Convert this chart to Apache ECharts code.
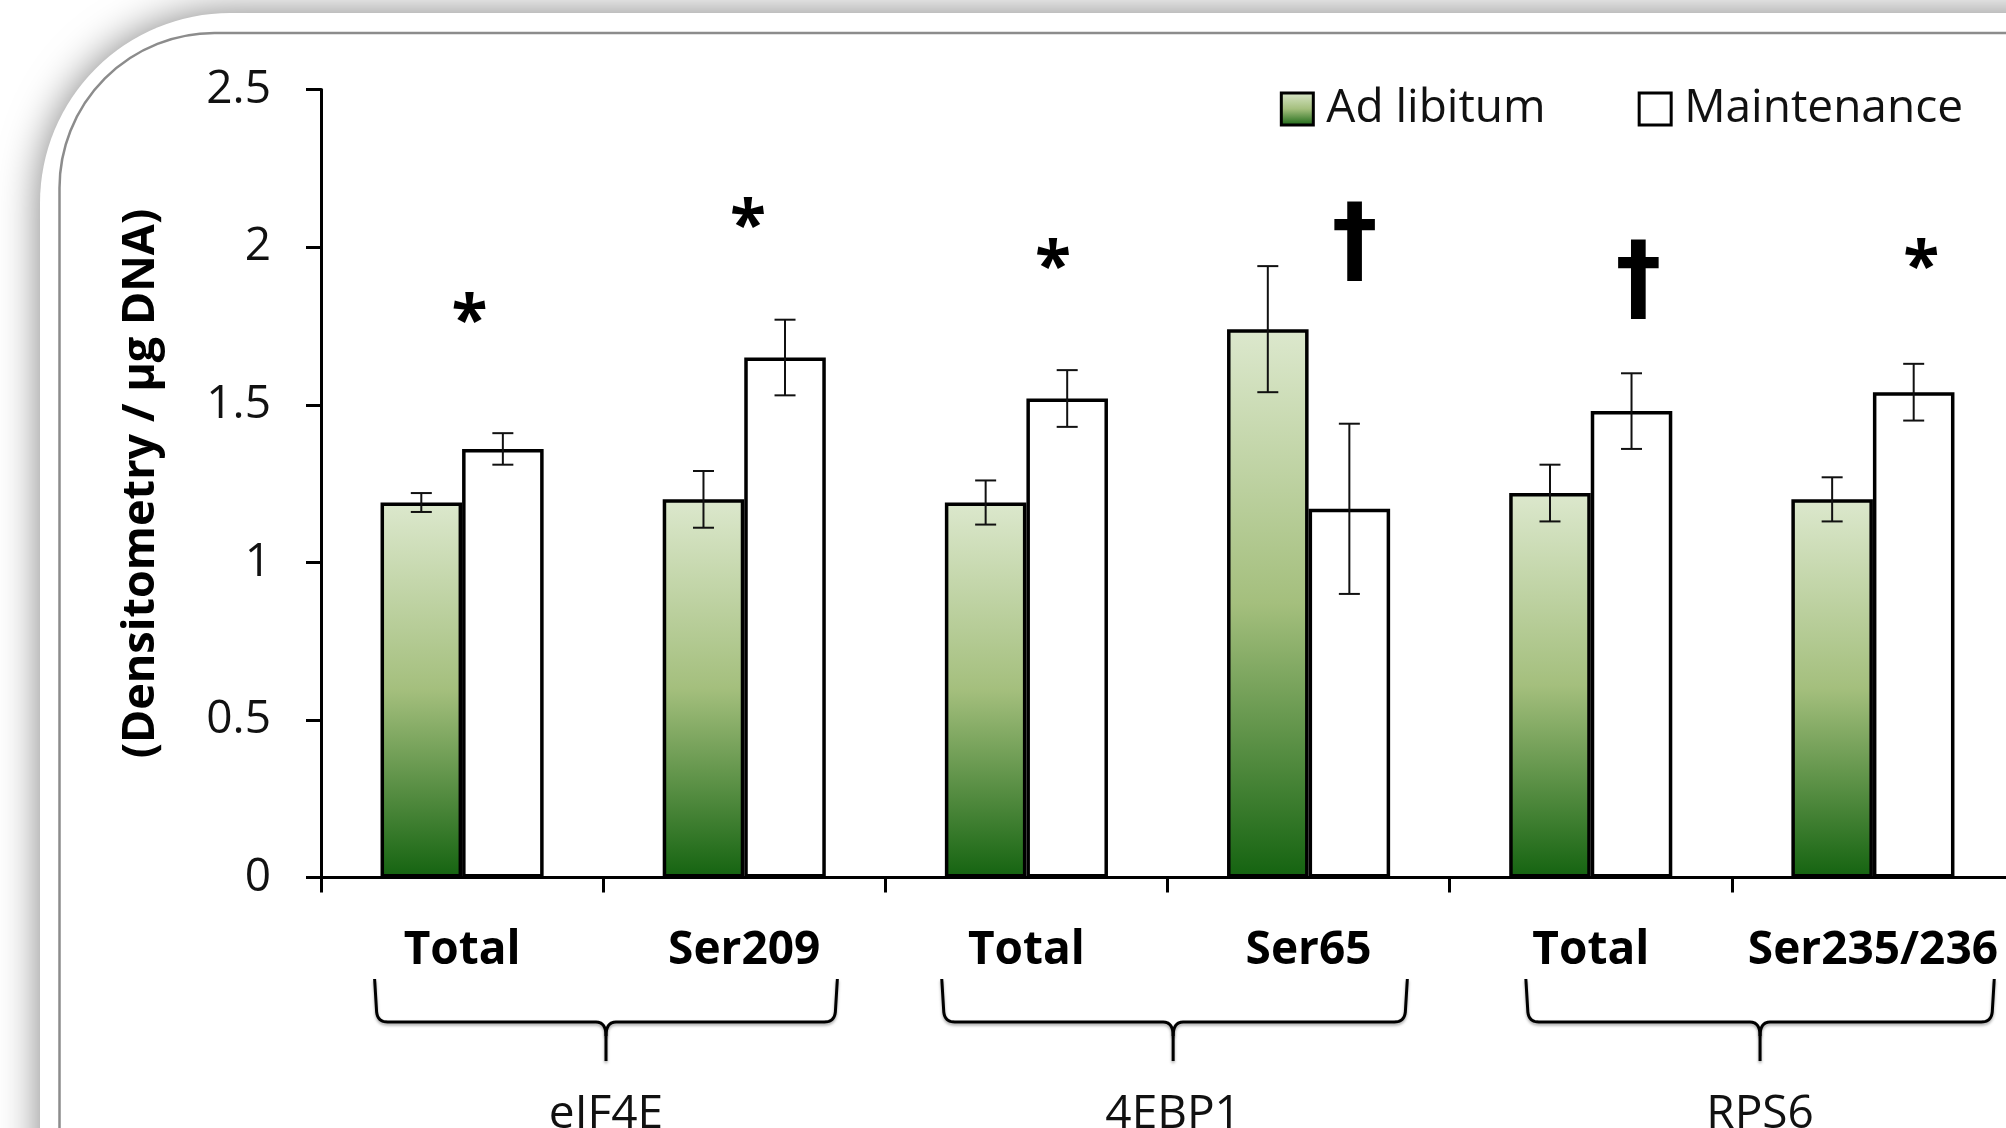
<!DOCTYPE html>
<html>
<head>
<meta charset="utf-8">
<script src="https://cdn.jsdelivr.net/npm/echarts@6/dist/echarts.min.js"></script>
<style>
html,body{margin:0;padding:0;background:#fff;}
#c{width:2006px;height:1128px;}
</style>
</head>
<body>
<div id="c"></div>
<script>
// ---- data ----
const categories = ['Total', 'Ser209', 'Total', 'Ser65', 'Total', 'Ser235/236'];
const seriesNames = ['Ad libitum', 'Maintenance'];
const adLibitum = [1.19, 1.20, 1.19, 1.74, 1.22, 1.20];
const adLibitumErr = [0.03, 0.09, 0.07, 0.20, 0.09, 0.07];
const maintenance = [1.36, 1.65, 1.52, 1.17, 1.48, 1.54];
const maintenanceErr = [0.05, 0.12, 0.09, 0.27, 0.12, 0.09];
const yMin = 0, yMax = 2.5, yInterval = 0.5;
const yTitle = '(Densitometry / µg DNA)';
const groupNames = ['eIF4E', '4EBP1', 'RPS6'];
// brace extents in category units: [left, tip, right]
const braceSpans = [[0.19, 1.01, 1.83], [2.20, 3.02, 3.85], [4.27, 5.10, 5.93]];
const marks = ['*', '*', '*', '\u2020', '\u2020', '*'];
const markValues = [1.80, 2.10, 1.97, 2.02, 1.90, 1.97];
const markPos = [0.526, 1.513, 2.594, 3.664, 4.669, 5.671];

const FONT = '"Open Sans", "Noto Sans", sans-serif';
const BAR_FRAC = 0.289;

const chart = echarts.init(document.getElementById('c'), null, {renderer: 'canvas'});

const green = new echarts.graphic.LinearGradient(0, 0, 0, 1, [
  {offset: 0, color: '#dce8cd'},
  {offset: 0.5, color: '#a4bf7d'},
  {offset: 1, color: '#146310'}
]);

function errSeries(vals, errs, side) {
  return {
    type: 'custom',
    silent: true,
    z: 5,
    data: vals.map((v, i) => [i, v, errs[i]]),
    renderItem: function (params, api) {
      const i = api.value(0), v = api.value(1), e = api.value(2);
      const band = api.size([1, 0])[0];
      const off = side * band * BAR_FRAC / 2;
      const top = api.coord([i, v + e]);
      const bot = api.coord([i, v - e]);
      const x = top[0] + off;
      const cap = 10.5;
      const st = {stroke: '#111', lineWidth: 2};
      return {
        type: 'group',
        children: [
          {type: 'line', shape: {x1: x, y1: top[1], x2: x, y2: bot[1]}, style: st},
          {type: 'line', shape: {x1: x - cap, y1: top[1], x2: x + cap, y2: top[1]}, style: st},
          {type: 'line', shape: {x1: x - cap, y1: bot[1], x2: x + cap, y2: bot[1]}, style: st}
        ]
      };
    }
  };
}

const option = {
  animation: false,
  backgroundColor: '#ffffff',
  grid: {left: 321, top: 89.6, width: 1693, height: 788, containLabel: false, outerBoundsMode: 'none'},
  legend: {
    data: seriesNames,
    right: 38,
    top: 81,
    itemWidth: 32,
    itemHeight: 32,
    itemGap: 92,
    icon: 'rect',
    itemStyle: {borderColor: '#000', borderWidth: 3},
    textStyle: {fontSize: 46, fontFamily: FONT, color: '#111', padding: [0, 0, 0, 8]}
  },
  xAxis: {
    type: 'category',
    data: categories,
    axisLine: {show: true, lineStyle: {color: '#000', width: 3}},
    axisTick: {show: true, length: 15, lineStyle: {color: '#000', width: 3}},
    axisLabel: {fontSize: 46, fontWeight: 'bold', fontFamily: FONT, color: '#000', margin: 50, interval: 0},
    splitLine: {show: false}
  },
  yAxis: {
    type: 'value',
    min: yMin, max: yMax, interval: yInterval,
    name: yTitle,
    nameLocation: 'middle',
    nameRotate: 90,
    nameGap: 157,
    nameTextStyle: {fontSize: 45, fontWeight: 'bold', fontFamily: FONT, color: '#000'},
    axisLine: {show: true, lineStyle: {color: '#000', width: 3}},
    axisTick: {show: true, length: 15, lineStyle: {color: '#000', width: 3}},
    axisLabel: {fontSize: 46, fontFamily: FONT, color: '#111', margin: 50},
    splitLine: {show: false}
  },
  series: [
    {
      name: seriesNames[0], type: 'bar', data: adLibitum,
      barWidth: (BAR_FRAC * 100) + '%', barGap: '0%',
      itemStyle: {color: green, borderColor: '#000', borderWidth: 3.5}
    },
    {
      name: seriesNames[1], type: 'bar', data: maintenance,
      barWidth: (BAR_FRAC * 100) + '%', barGap: '0%',
      itemStyle: {color: '#ffffff', borderColor: '#000', borderWidth: 3.5}
    },
    errSeries(adLibitum, adLibitumErr, -1),
    errSeries(maintenance, maintenanceErr, 1)
  ]
};

chart.setOption(option);

function quad(p0, c, p1, n) {
  const pts = [];
  for (let k = 0; k <= n; k++) {
    const t = k / n;
    const a = (1 - t) * (1 - t), b = 2 * (1 - t) * t, d = t * t;
    pts.push([a * p0[0] + b * c[0] + d * p1[0], a * p0[1] + b * c[1] + d * p1[1]]);
  }
  return pts;
}

function extras() {
  const x0 = chart.convertToPixel({xAxisIndex: 0}, 0);
  const x1 = chart.convertToPixel({xAxisIndex: 0}, 1);
  const band = x1 - x0;
  const ux = u => x0 + (u - 0.5) * band;
  const vy = v => chart.convertToPixel({yAxisIndex: 0}, v);
  const els = [];
  // frame
  els.push({
    type: 'rect', z: -100, silent: true,
    shape: {x: 40, y: 13, width: 2200, height: 1400, r: [190, 0, 0, 0]},
    style: {fill: '#ffffff', shadowBlur: 40, shadowColor: 'rgba(0,0,0,0.5)'}
  });
  els.push({
    type: 'rect', z: -99, silent: true,
    shape: {x: 59.5, y: 33, width: 2200, height: 1400, r: [155, 0, 0, 0]},
    style: {fill: 'none', stroke: '#8c8c8c', lineWidth: 2.5}
  });
  // braces + group labels
  const yTop = 979, yH = 1022, yTip = 1061;
  const braceStyle = {fill: null, stroke: '#000', lineWidth: 3, shadowBlur: 3, shadowColor: 'rgba(0,0,0,0.35)', shadowOffsetY: 2, lineJoin: 'round'};
  braceSpans.forEach((b, k) => {
    const L = ux(b[0]), M = ux(b[1]), R = ux(b[2]);
    const left = [[L, yTop]].concat(
      quad([L + 2, yH - 10], [L + 3, yH], [L + 13, yH], 8),
      quad([M - 10, yH], [M, yH], [M, yH + 14], 8),
      [[M, yTip]]
    );
    const right = [[R, yTop]].concat(
      quad([R - 2, yH - 10], [R - 3, yH], [R - 13, yH], 8),
      quad([M + 10, yH], [M, yH], [M, yH + 14], 8)
    );
    els.push({type: 'polyline', z: 10, silent: true, shape: {points: left}, style: braceStyle});
    els.push({type: 'polyline', z: 10, silent: true, shape: {points: right}, style: braceStyle});
    els.push({
      type: 'text', z: 10, silent: true,
      x: M, y: 1115,
      style: {text: groupNames[k], font: '46px ' + FONT, fill: '#111', align: 'center', verticalAlign: 'middle'}
    });
  });
  // significance marks
  marks.forEach((m, k) => {
    const x = ux(markPos[k]);
    const y = vy(markValues[k]);
    if (m === '*') {
      els.push({
        type: 'text', z: 10, silent: true, x: x, y: y + 14,
        style: {text: m, font: 'bold 66px ' + FONT, fill: '#000', align: 'center', verticalAlign: 'middle'}
      });
    } else {
      els.push({
        type: 'text', z: 10, silent: true, x: x, y: y + 6, scaleX: 0.95,
        style: {text: m, font: 'bold 96px "DejaVu Sans", sans-serif', fill: '#000', align: 'center', verticalAlign: 'middle'}
      });
    }
  });
  chart.setOption({graphic: {elements: els}});
}
extras();
</script>
</body>
</html>
